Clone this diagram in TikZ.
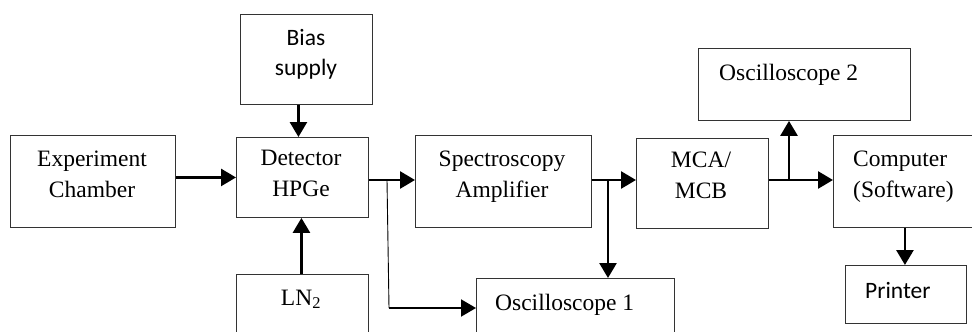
\documentclass[tikz,border=0pt]{standalone}
\usepackage{fontspec}
\setmainfont{Liberation Serif}
\newfontfamily\calib{Carlito}
\usetikzlibrary{arrows.meta,calc}

\tikzset{
  box/.style={draw=black!80, line width=0.9pt, rectangle, inner sep=0pt, anchor=north west},
  lbl/.style={inner sep=0pt, anchor=base, font=\fontsize{23.5}{30.5}\selectfont},
  lblc/.style={lbl, align=center},
  lbll/.style={lbl, align=left, anchor=base west},
  flow/.style={line width=2.7pt, -{Triangle[length=15pt,width=17pt]}},
  tap/.style={line width=0.9pt},
}

\begin{document}
\begin{tikzpicture}[x=1pt,y=-1pt]
  \useasboundingbox (0,0) rectangle (972,332);
  \clip (0,0) rectangle (972,332);

  % blocks (top-left corner, size)
  \node[box, minimum width=165pt, minimum height=92pt] (exp)  at (10,135)  {};
  \node[box, minimum width=132pt, minimum height=90pt] (bias) at (240,14)  {};
  \node[box, minimum width=132pt, minimum height=80pt] (det)  at (236,137) {};
  \node[box, minimum width=132pt, minimum height=90pt] (ln)   at (236,274) {};
  \node[box, minimum width=176pt, minimum height=92pt] (spec) at (415,135) {};
  \node[box, minimum width=198pt, minimum height=90pt] (osca) at (476,278) {};
  \node[box, minimum width=132pt, minimum height=90pt] (mca)  at (636,138) {};
  \node[box, minimum width=212pt, minimum height=72pt] (oscb) at (698,48)  {};
  \node[box, minimum width=160pt, minimum height=92pt] (comp) at (833,135) {};
  \node[box, minimum width=121pt, minimum height=58pt] (prn)  at (845,265) {};

  % labels (anchored at the baseline of their last line)
  \node[lblc] (texp)  at (92,197)  {Experiment\\Chamber};
  \node[lblc, font=\calib\fontsize{23.5}{30}\selectfont] (tbias) at (306,75) {Bias\\supply};
  \node[lblc] (tdet)  at (301,196) {Detector\\HPGe};
  \node[lbl]  (tln)   at (301,305) {LN\textsubscript{2}};
  \node[lblc] (tspec) at (502,197) {Spectroscopy\\Amplifier};
  \node[lbll] (tosca) at (495,310) {Oscilloscope 1};
  \node[lblc] (tmca)  at (701,198) {MCA/\\MCB};
  \node[lbll] (toscb) at (719,80)  {Oscilloscope 2};
  \node[lbll] (tcomp) at (853,197) {Computer\\(Software)};
  \node[lbll, font=\calib\fontsize{23.5}{30}\selectfont] (tprn) at (865,298) {Printer};

  % junction points of the branching lines
  \coordinate (ja) at (387,180);
  \coordinate (jb) at (389,308);
  \coordinate (jc) at (608,180);
  \coordinate (jd) at (789,180);

  % signal flow
  \draw[flow] ([yshift=4pt]exp.east) -- ([yshift=4pt]exp.east -| det.west);
  \draw[flow] ([xshift=-8pt]bias.south) -- ([xshift=-8pt]bias.south |- det.north);
  \draw[flow] ([xshift=-1pt]ln.north) -- ([xshift=-1pt]ln.north |- det.south);
  \draw[flow] (det.east |- ja) -- (ja -| spec.west);
  \draw[tap] (ja) -- (jb);
  \draw[flow, line width=2pt] (jb) -- (jb -| osca.west);
  \draw[flow] (spec.east |- jc) -- (jc -| mca.west);
  \draw[flow] (jc) -- (jc |- osca.north);
  \draw[flow] (mca.east |- jd) -- (jd -| comp.west);
  \draw[flow] (jd) -- (jd |- oscb.south);
  \draw[flow] ([xshift=-1pt]prn.north |- comp.south) -- ([xshift=-1pt]prn.north);
\end{tikzpicture}
\end{document}
